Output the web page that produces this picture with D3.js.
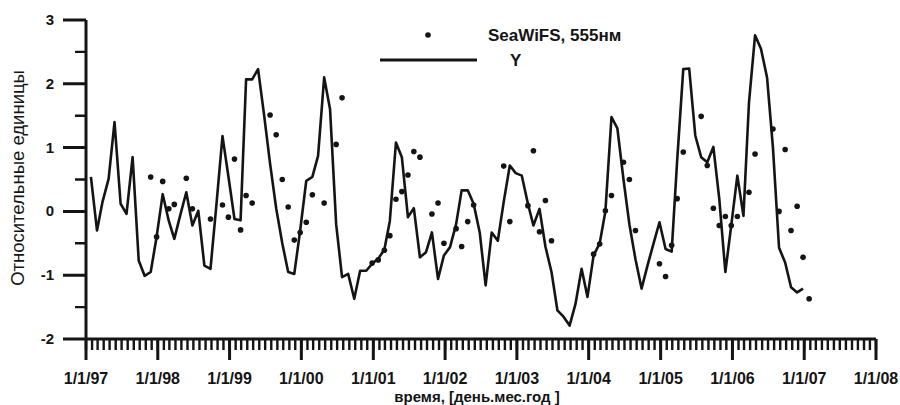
<!DOCTYPE html>
<html>
<head>
<meta charset="utf-8">
<script src="https://cdn.jsdelivr.net/npm/d3@7"></script>
<style>
  body { margin: 0; background: #fff; }
  text { font-family: "Liberation Sans", Arial, sans-serif; }
</style>
</head>
<body>
<svg id="chart" width="900" height="405"></svg>
<script>
// month index 0 = Jan 1997
var lineValues = [
  0.54, -0.30, 0.15, 0.51, 1.40, 0.12, -0.04, 0.85, -0.77, -1.01, -0.95, -0.40,
  0.27, -0.15, -0.43, -0.05, 0.30, -0.22, 0.01, -0.85, -0.90, 0.10, 1.18, 0.55,
  -0.12, -0.14, 2.07, 2.07, 2.23, 1.50, 0.75, 0.05, -0.50, -0.95, -0.98, -0.30,
  0.48, 0.54, 0.87, 2.10, 1.60, -0.20, -1.03, -0.98, -1.37, -0.93, -0.93, -0.82,
  -0.74, -0.60, -0.15, 1.08, 0.85, -0.09, 0.05, -0.72, -0.64, -0.33, -1.06, -0.69,
  -0.56, -0.20, 0.33, 0.33, 0.12, -0.33, -1.16, -0.33, -0.46, 0.15, 0.72, 0.60,
  0.56, 0.12, -0.22, 0.04, -0.55, -0.95, -1.55, -1.65, -1.79, -1.45, -0.90, -1.34,
  -0.69, -0.50, 0.00, 1.48, 1.30, 0.50, -0.20, -0.75, -1.21, -0.85, -0.50, -0.17,
  -0.59, -0.63, 0.80, 2.23, 2.24, 1.19, 0.85, 0.77, 1.01, 0.20, -0.95, -0.22,
  0.56, -0.07, 1.70, 2.76, 2.55, 2.10, 1.00, -0.57, -0.80, -1.19, -1.27, -1.21
]

var seaMonths = [10, 11, 12, 13, 14, 16, 17, 20, 22, 23, 24, 25, 26, 27,
  30, 31, 32, 33, 34, 35, 36, 37, 39, 41, 42,
  47, 48, 49, 50, 51, 52, 53, 54, 55, 57, 58, 59,
  61, 62, 63, 64, 69, 70, 73, 74, 75, 76, 77,
  84, 85, 86, 87, 89, 90, 91, 95, 96, 97, 98, 99,
  102, 103, 104, 105, 106, 107, 108, 110, 111, 114, 115, 116, 117, 118, 119, 120]
var seaValues = [0.54, -0.40, 0.47, 0.04, 0.11, 0.52, 0.04, -0.12, 0.10, -0.09, 0.82, -0.29, 0.25, 0.13,
  1.51, 1.20, 0.50, 0.07, -0.45, -0.33, -0.17, 0.26, 0.13, 1.05, 1.78,
  -0.81, -0.76, -0.61, -0.38, 0.19, 0.31, 0.57, 0.94, 0.85, -0.04, 0.13, -0.50,
  -0.27, -0.55, -0.16, 0.10, 0.71, -0.16, 0.09, 0.95, -0.32, 0.17, -0.46,
  -0.67, -0.51, 0.01, 0.25, 0.77, 0.50, -0.30, -0.82, -1.02, -0.53, 0.20, 0.93,
  1.49, 0.72, 0.05, -0.22, -0.08, -0.22, -0.08, 0.30, 0.90, 1.29, 0.00, 0.97, -0.30, 0.08, -0.72, -1.37]

var xTickLabels = ["1/1/97", "1/1/98", "1/1/99", "1/1/00", "1/1/01", "1/1/02",
  "1/1/03", "1/1/04", "1/1/05", "1/1/06", "1/1/07", "1/1/08"]
var yMajor = [-2, -1, 0, 1, 2, 3]
var yMinor = [-1.5, -0.5, 0.5, 1.5, 2.5]

function monthDate(k) { return new Date(1997, k, 26) }

var ink = "#141414"
var svg = d3.select("#chart")

var x = d3.scaleTime()
    .domain([new Date(1997, 0, 1), new Date(2008, 0, 1)])
    .range([86, 876])
var y = d3.scaleLinear().domain([-2, 3]).range([339, 20])

var x0 = x.range()[0], yBase = y.domain()[0]

// minor ticks: monthly on x, halves on y
var months = d3.timeMonth.range(new Date(1997, 0, 1), new Date(2008, 0, 2))
var minor = d3.path()
months.forEach(function(d) { minor.moveTo(x(d), y(yBase)); minor.lineTo(x(d), y(yBase) + 11) })
yMinor.forEach(function(d) { minor.moveTo(x0, y(d)); minor.lineTo(x0 - 11, y(d)) })
svg.append("path").attr("d", minor.toString())
    .attr("fill", "none").attr("stroke", ink).attr("stroke-width", 2.4)

// major ticks and axis lines
var years = d3.timeYear.range(new Date(1997, 0, 1), new Date(2008, 0, 2))
var major = d3.path()
years.forEach(function(d) { major.moveTo(x(d), y(yBase)); major.lineTo(x(d), y(yBase) + 21) })
yMajor.forEach(function(d) { major.moveTo(x0, y(d)); major.lineTo(x0 - 23, y(d)) })
major.moveTo(x0, y(3)); major.lineTo(x0, y(yBase)); major.lineTo(x(years[years.length - 1]), y(yBase))
svg.append("path").attr("d", major.toString())
    .attr("fill", "none").attr("stroke", ink).attr("stroke-width", 3)

// tick labels
svg.append("g").selectAll("text")
    .data(years)
    .enter().append("text")
    .text(function(d, i) { return xTickLabels[i] })
    .attr("x", function(d) { return x(d) })
    .attr("y", 384)
    .attr("text-anchor", "middle")
    .style("font-size", "16px").style("font-weight", "bold").attr("fill", ink)
svg.append("g").selectAll("text")
    .data(yMajor)
    .enter().append("text")
    .text(function(d) { return d })
    .attr("x", x0 - 32)
    .attr("y", function(d) { return y(d) + 5 })
    .attr("text-anchor", "end")
    .style("font-size", "15px").style("font-weight", "bold").attr("fill", ink)

// axis titles
svg.append("text").text("время, [день.мес.год ]")
    .attr("x", 477).attr("y", 401.5)
    .attr("text-anchor", "middle")
    .style("font-size", "15px").style("font-weight", "bold").attr("fill", ink)
svg.append("text").text("Относительные единицы")
    .attr("transform", "translate(24,178) rotate(-90)")
    .attr("text-anchor", "middle")
    .style("font-size", "18.5px").attr("fill", ink)

// Y line
var valueline = d3.line()
    .x(function(d, i) { return x(monthDate(i)) })
    .y(function(d) { return y(d) })
svg.append("path")
    .datum(lineValues)
    .attr("d", valueline)
    .attr("fill", "none")
    .attr("stroke", ink)
    .attr("stroke-width", 2.6)
    .attr("stroke-linejoin", "round")

// SeaWiFS dots
svg.append("g").selectAll("circle")
    .data(seaMonths)
    .enter().append("circle")
    .attr("cx", function(d) { return x(monthDate(d)) })
    .attr("cy", function(d, i) { return y(seaValues[i]) })
    .attr("r", 2.8)
    .attr("fill", ink)

// legend
svg.append("circle").attr("cx", 428).attr("cy", 35).attr("r", 2.8).attr("fill", ink)
svg.append("text").text("SeaWiFS, 555нм").attr("x", 488).attr("y", 41)
    .style("font-size", "17px").style("font-weight", "bold").attr("fill", ink)
svg.append("line").attr("x1", 380).attr("x2", 477).attr("y1", 60).attr("y2", 60)
    .attr("stroke", ink).attr("stroke-width", 2.8)
svg.append("text").text("Y").attr("x", 510).attr("y", 66)
    .style("font-size", "17px").style("font-weight", "bold").attr("fill", ink)
</script>
</body>
</html>
